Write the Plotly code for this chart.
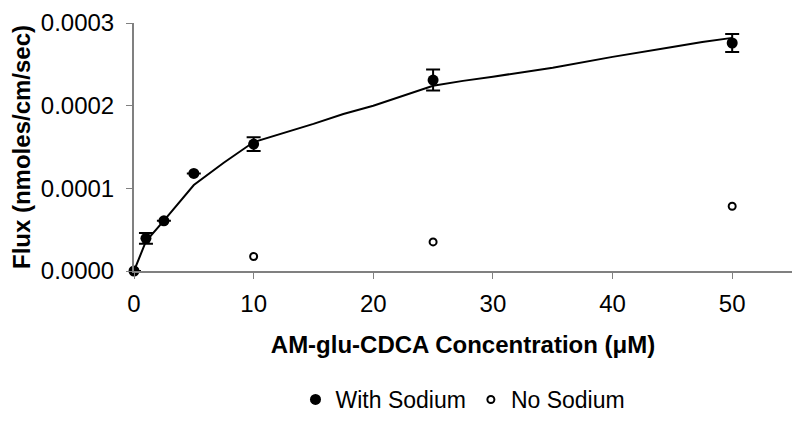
import plotly.graph_objects as go

# With Sodium data points
conc_na = [0, 1, 2.5, 5, 10, 25, 50]
flux_na = [0.0, 0.0000395, 0.0000607, 0.000118, 0.0001535, 0.000231, 0.0002758]
err_na = [0.0, 0.0000065, 0.0, 0.0, 0.0000082, 0.0000127, 0.000011]

# No Sodium data points
conc_nona = [0, 10, 25, 50]
flux_nona = [0.0, 0.0000176, 0.0000352, 0.0000783]

# Fitted curve
fit_x = [0, 1, 2.5, 5, 7.5, 10, 15, 17.5, 20, 22.5, 25, 27.5, 30, 35, 40, 45, 47.5, 50]
fit_y = [0.0, 0.000036, 0.000061, 0.000104, 0.000131, 0.000156, 0.000178, 0.00019,
         0.000200, 0.000212, 0.000224, 0.000230, 0.000235, 0.000246, 0.000259,
         0.000271, 0.000277, 0.000282]

x_ticks = [0, 10, 20, 30, 40, 50]
y_ticks = [0.0, 0.0001, 0.0002, 0.0003]

FONT = "Liberation Sans, Arial, sans-serif"

fig = go.Figure()
fig.add_trace(go.Scatter(x=fit_x, y=fit_y, mode="lines",
                         line=dict(color="black", width=2), showlegend=False,
                         hoverinfo="skip"))
fig.add_trace(go.Scatter(x=conc_nona, y=flux_nona, mode="markers", name="No Sodium",
                         cliponaxis=False,
                         marker=dict(symbol="circle-open", size=7, color="black",
                                     line=dict(width=2, color="black"))))
fig.add_trace(go.Scatter(x=conc_na, y=flux_na, mode="markers", name="With Sodium",
                         cliponaxis=False,
                         marker=dict(symbol="circle", size=11, color="black"),
                         error_y=dict(type="data", array=err_na, color="black",
                                      thickness=2, width=7)))

# the page keeps its default 8px body margin; the figure is sized so the
# whole page is exactly 800x429
fig.update_layout(
    width=784, height=413,
    margin=dict(l=126, r=0, t=15, b=142),
    plot_bgcolor="white", paper_bgcolor="white",
    font=dict(family=FONT, color="black", size=23),
    legend=dict(orientation="h", x=0.5, xanchor="center", y=-0.52, yanchor="middle",
                font=dict(size=23), traceorder="reversed", itemwidth=30),
    xaxis=dict(range=[0, 55], tickvals=x_ticks, ticks="outside", ticklen=6,
               tickcolor="#808080", linecolor="#808080", linewidth=2, showline=True,
               showgrid=False, zeroline=False, tickfont=dict(size=24), automargin=False,
               ticklabelstandoff=4, ticklabeloverflow="allow",
               title=dict(text="<b>AM-glu-CDCA Concentration (μM)</b>",
                          font=dict(size=24), standoff=20)),
    yaxis=dict(range=[0, 0.0003], tickvals=y_ticks, tickformat=".4f", ticks="outside",
               ticklen=6, tickcolor="#808080", linecolor="#808080", linewidth=2,
               showline=True, showgrid=False, zeroline=False, tickfont=dict(size=24),
               automargin=False, ticklabelstandoff=7, ticklabeloverflow="allow",
               title=dict(text="<b>Flux (nmoles/cm/sec)</b>", font=dict(size=24),
                          standoff=4)),
)
fig.write_html("out.html", config={"displayModeBar": False})
